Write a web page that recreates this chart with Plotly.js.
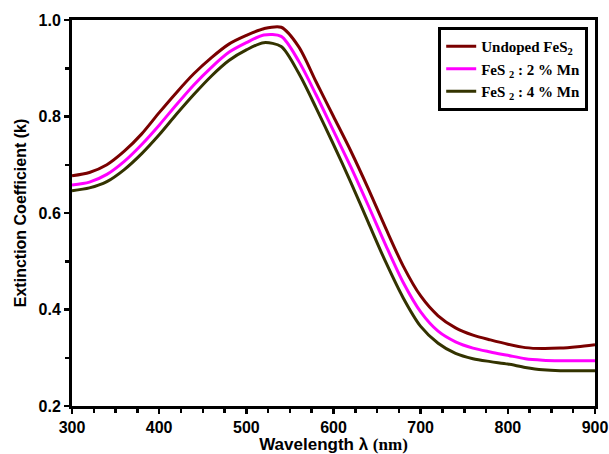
<!DOCTYPE html>
<html>
<head>
<meta charset="utf-8">
<script src="https://cdn.plot.ly/plotly-3.0.1.min.js"></script>
<style>html,body{margin:0;padding:0;background:#fff;}#chart{width:609px;height:454px;}</style>
</head>
<body>
<div id="chart"></div>
<script>
const wavelength = [300,320,340,360,380,400,420,440,460,480,500,520,540,560,580,600,620,640,660,680,700,720,740,760,780,800,820,840,860,880,900];
const undoped = [0.677,0.684,0.700,0.728,0.764,0.808,0.850,0.889,0.922,0.950,0.968,0.982,0.985,0.945,0.872,0.800,0.728,0.650,0.568,0.490,0.428,0.387,0.362,0.347,0.337,0.328,0.321,0.319,0.320,0.323,0.327];
const mn2 = [0.658,0.664,0.680,0.707,0.742,0.782,0.825,0.866,0.902,0.933,0.953,0.969,0.966,0.915,0.845,0.770,0.695,0.615,0.533,0.456,0.395,0.355,0.333,0.320,0.312,0.305,0.298,0.295,0.294,0.294,0.294];
const mn4 = [0.646,0.652,0.665,0.690,0.723,0.762,0.805,0.846,0.884,0.916,0.938,0.953,0.945,0.890,0.818,0.742,0.663,0.580,0.498,0.424,0.365,0.330,0.309,0.298,0.292,0.287,0.280,0.275,0.273,0.273,0.273];
const names = ["Undoped FeS<sub>2</sub>", "FeS <sub>2</sub> : 2 % Mn", "FeS <sub>2</sub> : 4 % Mn"];
const colors = ["#7a0000", "#ff00ff", "#333300"];

const traces = [
  {x: wavelength, y: undoped, name: names[0]},
  {x: wavelength, y: mn2, name: names[1]},
  {x: wavelength, y: mn4, name: names[2]}
].map((t, i) => Object.assign(t, {
  type: 'scatter', mode: 'lines',
  line: {color: colors[i], width: 3, shape: 'spline', smoothing: 0.8}
}));

const axisCommon = {
  showline: true, linecolor: '#000', linewidth: 3, mirror: true,
  ticks: 'outside', ticklen: 5, tickwidth: 2.5, tickcolor: '#000',
  showgrid: false, zeroline: false,
  tickfont: {family: 'Liberation Sans, Arial, sans-serif', size: 16, color: '#000', weight: 'bold'}
};

const layout = {
  width: 609, height: 454,
  margin: {l: 72, r: 14, t: 20, b: 48},
  paper_bgcolor: '#fff', plot_bgcolor: '#fff',
  showlegend: true,
  xaxis: Object.assign({}, axisCommon, {
    range: [300, 900], tickvals: [300,400,500,600,700,800,900],
    minor: {dtick: 25, ticks: 'outside', ticklen: 4, tickwidth: 2.5, tickcolor: '#000'},
    title: {text: 'Wavelength λ <span style="font-family:Liberation Serif, Times New Roman, serif">(nm)</span>',
      font: {family: 'Liberation Sans, Arial, sans-serif', size: 17, color: '#000', weight: 'bold'}, standoff: 6}
  }),
  yaxis: Object.assign({}, axisCommon, {
    range: [0.2, 1.0], tickvals: [0.2,0.4,0.6,0.8,1.0], ticktext: ['0.2','0.4','0.6','0.8','1.0'],
    minor: {dtick: 0.1, ticks: 'outside', ticklen: 4, tickwidth: 2.5, tickcolor: '#000'},
    title: {text: 'Extinction Coefficient (k)',
      font: {family: 'Liberation Sans, Arial, sans-serif', size: 16, color: '#000', weight: 'bold'}, standoff: 8}
  }),
  legend: {
    x: 0.987, xanchor: 'right', y: 0.982, yanchor: 'top',
    bgcolor: '#fff', bordercolor: '#000', borderwidth: 3,
    font: {family: 'Liberation Serif, Times New Roman, serif', size: 15, color: '#000', weight: 'bold'},
    tracegroupgap: 0, itemwidth: 30
  }
};

Plotly.newPlot('chart', traces, layout, {displayModeBar: false, staticPlot: true});
</script>
</body>
</html>
